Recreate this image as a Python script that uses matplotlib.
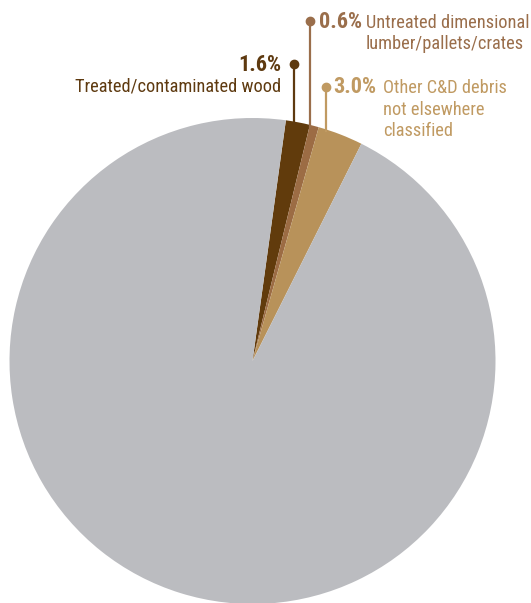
import matplotlib
matplotlib.use("Agg")
import matplotlib.pyplot as plt
from matplotlib import font_manager
import numpy as np

# ---- data ----
categories = ["Treated/contaminated wood",
              "Untreated dimensional lumber/pallets/crates",
              "Other C&D debris not elsewhere classified",
              "Other"]
values = [1.6, 0.6, 3.0, 94.8]
pct_labels = ["1.6%", "0.6%", "3.0%"]
slice_colors = ["#613b0c", "#9c6c44", "#b8925a", "#bbbcc0"]
text_colors = ["#5e3a10", "#9a6e4b", "#c09a62"]

# ---- font ----
names = {f.name for f in font_manager.fontManager.ttflist}
family = None
for cand in ["Liberation Sans Narrow", "DejaVu Sans Condensed", "Roboto Condensed",
             "Open Sans Condensed", "Liberation Sans"]:
    if cand in names:
        family = cand
        break
if family is None:
    family = "DejaVu Sans"
plt.rcParams["font.family"] = [family, "DejaVu Sans"]

W, H = 531, 603
fig = plt.figure(figsize=(W / 100, H / 100), dpi=100)
ax = fig.add_axes([0, 0, 1, 1])

def Y(y):
    return H - y

cx, cy, r = 252.5, 361.0, 243.0
ax.pie(values, colors=slice_colors, startangle=82.1, counterclock=False,
       center=(cx, Y(cy)), radius=r, frame=True,
       wedgeprops=dict(linewidth=0))
ax.set_xlim(0, W)
ax.set_ylim(0, H)
ax.set_aspect("equal")
ax.axis("off")

# leader lines: (x, dot y)
leaders = [(294.3, 64.0), (310.0, 20.7), (326.0, 87.3)]
for (lx, ly), col in zip(leaders, text_colors):
    yb = cy - np.sqrt(r ** 2 - (lx - cx) ** 2) + 3
    ax.plot([lx, lx], [Y(ly), Y(yb)], color=col, lw=1.6, solid_capstyle="butt", zorder=3)
    ax.plot([lx], [Y(ly)], "o", color=col, ms=6, zorder=4)

fs = 13.2
fsb = 16.0
# 1.6%
ax.text(281, Y(70.7), pct_labels[0], ha="right", va="baseline", fontsize=fsb,
        fontweight="bold", color=text_colors[0])
ax.text(281, Y(91.7), "Treated/contaminated wood", ha="right", va="baseline",
        fontsize=fs, color=text_colors[0])
# 0.6%
ax.text(319, Y(27.7), pct_labels[1], ha="left", va="baseline", fontsize=fsb,
        fontweight="bold", color=text_colors[1])
ax.text(366, Y(27.7), "Untreated dimensional", ha="left", va="baseline",
        fontsize=fs, color=text_colors[1])
ax.text(366, Y(49.0), "lumber/pallets/crates", ha="left", va="baseline",
        fontsize=fs, color=text_colors[1])
# 3.0%
ax.text(333, Y(93.3), pct_labels[2], ha="left", va="baseline", fontsize=fsb,
        fontweight="bold", color=text_colors[2])
for i, line in enumerate(["Other C&D debris", "not elsewhere", "classified"]):
    ax.text(383, Y(93.3 + 21.3 * i), line, ha="left", va="baseline",
            fontsize=fs, color=text_colors[2])

fig.savefig("out.png", dpi=100)
